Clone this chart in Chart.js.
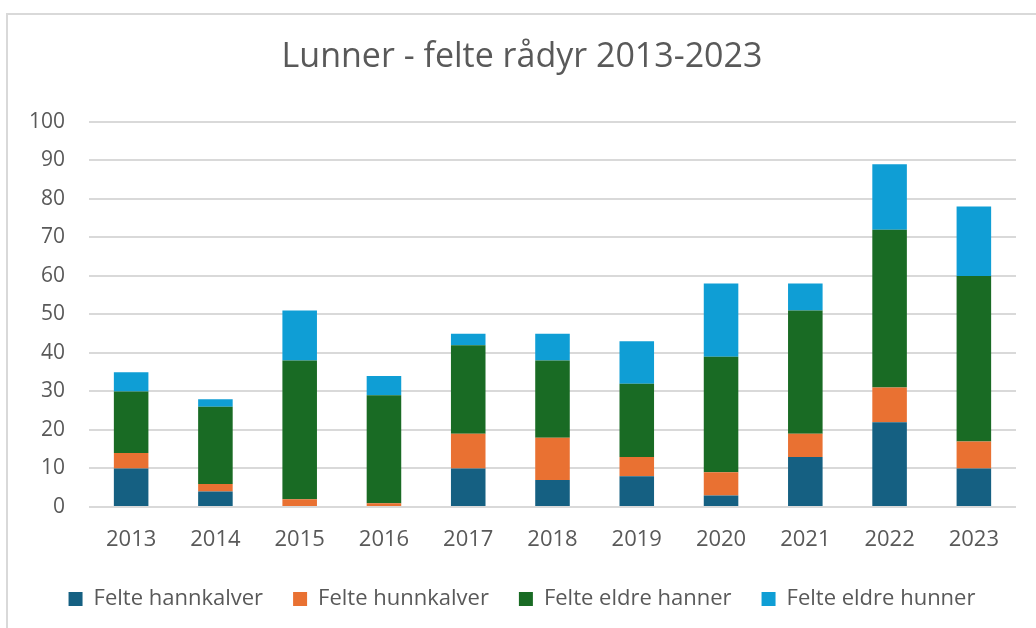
<!DOCTYPE html>
<html>
<head>
<meta charset="utf-8">
<script src="https://cdn.jsdelivr.net/npm/chart.js@4"></script>
<style>
  html, body { margin: 0; padding: 0; background: #fff; }
  #wrap { position: relative; width: 1036px; height: 628px; overflow: hidden; }
  #frame { position: absolute; left: 6px; top: 13px; width: 1100px; height: 700px; border: 2px solid #d9d9d9; box-sizing: border-box; }
  #chartBox { position: absolute; left: 0; top: 0; width: 1036px; height: 628px; }
</style>
</head>
<body>
<div id="wrap">
  <div id="frame"></div>
  <div id="chartBox"><canvas id="rdChart"></canvas></div>
</div>
<script>
// felte rådyr i Lunner per år
const years = ['2013', '2014', '2015', '2016', '2017', '2018', '2019', '2020', '2021', '2022', '2023'];
const hannkalver = [10, 4, 0, 0, 10, 7, 8, 3, 13, 22, 10];
const hunnkalver = [4, 2, 2, 1, 9, 11, 5, 6, 6, 9, 7];
const eldreHanner = [16, 20, 36, 28, 23, 20, 19, 30, 32, 41, 43];
const eldreHunner = [5, 2, 13, 5, 3, 7, 11, 19, 7, 17, 18];
const yTicks = [0, 10, 20, 30, 40, 50, 60, 70, 80, 90, 100];

const txt = '#595959';
const fam = '"Open Sans", "Noto Sans", sans-serif';

const ctx = document.getElementById('rdChart').getContext('2d');
const rdChart = new Chart(ctx, {
    type: 'bar',
    data: {
        labels: years,
        datasets: [
            { label: 'Felte hannkalver', data: hannkalver, backgroundColor: '#156082' },
            { label: 'Felte hunnkalver', data: hunnkalver, backgroundColor: '#e97132' },
            { label: 'Felte eldre hanner', data: eldreHanner, backgroundColor: '#196b24' },
            { label: 'Felte eldre hunner', data: eldreHunner, backgroundColor: '#0f9ed5' }
        ]
    },
    options: {
        responsive: true,
        maintainAspectRatio: false,
        animation: false,
        datasets: { bar: { barPercentage: 0.41, categoryPercentage: 1.0, borderWidth: 0 } },
        layout: { padding: { left: 28, right: 20, top: 37, bottom: 8 } },
        plugins: {
            title: {
                display: true,
                text: 'Lunner - felte rådyr 2013-2023',
                color: txt,
                font: { family: fam, size: 34, weight: 'normal' },
                padding: { top: 0, bottom: 44 }
            },
            legend: {
                position: 'bottom',
                labels: {
                    color: txt,
                    font: { family: fam, size: 22 },
                    boxWidth: 14,
                    boxHeight: 14,
                    padding: 30
                }
            },
            tooltip: { enabled: false }
        },
        scales: {
            x: {
                stacked: true,
                afterFit: (s) => { s.height = 51; },
                grid: { display: false, drawTicks: false },
                border: { display: false },
                ticks: { color: txt, font: { family: fam, size: 22 }, padding: 20 }
            },
            y: {
                stacked: true,
                min: 0,
                max: 100,
                afterFit: (s) => { s.width = 61; },
                afterBuildTicks: (s) => { s.ticks = yTicks.map(v => ({ value: v })); },
                grid: { color: '#d9d9d9', lineWidth: 2, drawTicks: false },
                border: { display: false },
                ticks: { color: txt, font: { family: fam, size: 21 }, padding: 24 }
            }
        }
    }
});
</script>
</body>
</html>
